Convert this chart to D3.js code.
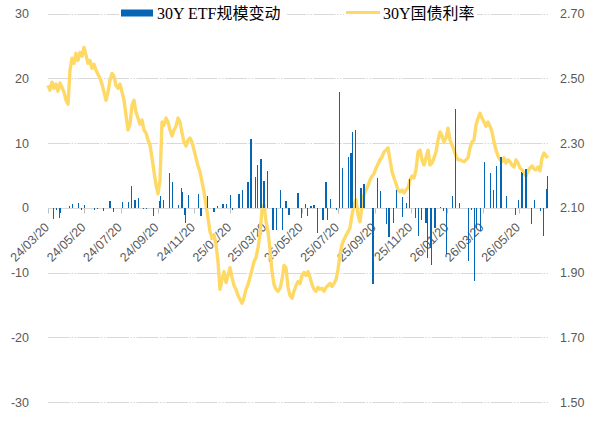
<!DOCTYPE html>
<html><head><meta charset="utf-8">
<script src="https://cdn.jsdelivr.net/npm/d3@7"></script>
<style>body{margin:0;background:#fff}svg{display:block}</style>
</head><body><svg id="c" width="590" height="425"></svg>
<script>
// ---------- data ----------
const leftTicks = [30, 20, 10, 0, -10, -20, -30];
const rightTicks = [2.70, 2.50, 2.30, 2.10, 1.90, 1.70, 1.50];
const xTickDates = ["2024-03-20","2024-05-20","2024-07-20","2024-09-20","2024-11-20","2025-01-20","2025-03-20",
  "2025-05-20","2025-07-20","2025-09-20","2025-11-20","2026-01-20","2026-03-20","2026-05-20"];
const seriesNames = ["30Y ETF规模变动", "30Y国债利率"];
const xDomain = ["2024-03-20", "2026-07-08"];

// 30Y government bond yield, sampled every 3.36 days from the start date
const yieldStart = "2024-03-20";
const yieldStepDays = 3.36;
const yieldValues = [
2.478,2.463,2.488,2.469,2.482,2.460,2.485,2.472,2.457,2.432,2.420,2.525,2.562,2.546,2.577,2.555,2.580,2.568,2.595,2.571,
2.546,2.555,2.531,2.543,2.525,2.512,2.500,2.482,2.457,2.432,2.457,2.494,2.515,2.506,2.478,2.469,2.482,2.457,2.432,2.386,
2.340,2.358,2.417,2.432,2.395,2.377,2.358,2.371,2.340,2.331,2.309,2.294,2.254,2.211,2.171,2.143,2.186,2.365,2.355,2.377,
2.365,2.340,2.322,2.340,2.352,2.377,2.365,2.331,2.303,2.291,2.309,2.315,2.303,2.278,2.254,2.229,2.211,2.180,2.149,2.109,
2.069,2.026,2.008,2.017,1.986,1.934,1.848,1.878,1.903,1.869,1.891,1.915,1.885,1.860,1.848,1.829,1.817,1.805,1.823,1.848,
1.863,1.885,1.909,1.934,1.946,1.977,2.017,2.094,2.109,2.057,2.026,1.971,1.903,1.863,1.848,1.842,1.851,1.878,1.922,1.915,
1.854,1.829,1.820,1.842,1.860,1.872,1.866,1.891,1.900,1.891,1.903,1.885,1.863,1.848,1.842,1.854,1.848,1.851,1.842,1.854,
1.860,1.866,1.857,1.866,1.878,1.909,1.955,1.986,2.002,2.014,2.026,2.038,2.078,2.109,2.125,2.078,2.057,2.109,2.140,2.155,
2.168,2.186,2.198,2.205,2.223,2.235,2.248,2.257,2.272,2.278,2.285,2.248,2.211,2.192,2.174,2.155,2.149,2.155,2.146,2.155,
2.162,2.186,2.198,2.192,2.217,2.272,2.278,2.248,2.232,2.254,2.278,2.232,2.238,2.254,2.272,2.309,2.334,2.322,2.303,2.315,
2.346,2.309,2.294,2.278,2.260,2.248,2.248,2.245,2.242,2.248,2.254,2.285,2.303,2.309,2.355,2.377,2.392,2.377,2.365,2.352,
2.365,2.352,2.334,2.303,2.278,2.260,2.248,2.242,2.254,2.238,2.248,2.242,2.232,2.226,2.248,2.238,2.223,2.217,2.205,2.198,
2.214,2.223,2.229,2.220,2.217,2.226,2.214,2.254,2.269,2.260,2.254];

// 30Y ETF size change (bars)
const flowDates = [
"2024-03-29","2024-04-03","2024-04-08","2024-04-10","2024-04-25","2024-04-30","2024-05-10","2024-05-15","2024-05-20","2024-06-06",
"2024-06-11","2024-06-21","2024-07-01","2024-07-03","2024-07-08","2024-07-23","2024-08-02","2024-08-07","2024-08-12","2024-08-14",
"2024-08-19","2024-08-28","2024-09-02","2024-09-13","2024-09-23","2024-09-25","2024-09-30","2024-10-10","2024-10-15","2024-10-25",
"2024-10-30","2024-11-01","2024-11-04","2024-11-06","2024-11-11","2024-11-28","2024-12-02","2024-12-13","2024-12-24","2024-12-30",
"2025-01-08","2025-01-14","2025-01-20","2025-01-24","2025-02-04","2025-02-10","2025-02-19","2025-02-24","2025-03-03","2025-03-07",
"2025-03-13","2025-03-18","2025-03-24","2025-04-02","2025-04-08","2025-04-14","2025-04-18","2025-04-24","2025-04-29","2025-05-14",
"2025-05-20","2025-05-26","2025-05-30","2025-06-05","2025-06-10","2025-06-16","2025-06-25","2025-06-30","2025-07-02","2025-07-07",
"2025-07-18","2025-07-23","2025-07-28","2025-08-07","2025-08-11","2025-08-13","2025-08-18","2025-08-28","2025-09-02","2025-09-17",
"2025-09-24","2025-09-29","2025-10-10","2025-10-14","2025-10-21","2025-10-27","2025-11-05","2025-11-06","2025-11-12","2025-11-17",
"2025-11-28","2025-12-02","2025-12-08","2025-12-15","2025-12-17","2025-12-22","2025-12-24","2025-12-30","2026-01-08","2026-01-13",
"2026-01-19","2026-01-29","2026-02-03","2026-02-09","2026-02-24","2026-03-02","2026-03-06","2026-03-10","2026-03-17","2026-03-23",
"2026-04-02","2026-04-07","2026-04-13","2026-04-20","2026-04-29","2026-05-14","2026-05-19","2026-05-25","2026-05-26","2026-06-01",
"2026-06-10","2026-06-15","2026-06-25","2026-06-30","2026-07-05","2026-07-07"];
const flowValues = [
-1.8,-0.3,-1.6,-0.8,0.2,0.6,0.8,-0.3,0.5,-0.4,
-0.2,-0.5,1.1,1.0,-0.7,0.9,0.9,3.4,1.2,1.2,
1.5,-0.2,-0.2,-1.2,1.1,1.8,1.2,5.4,4.0,0.5,
3.0,2.4,-1.1,-2.4,2.0,2.1,-1.3,1.85,-0.6,0.2,
0.6,0.6,2.0,-0.3,2.1,2.8,3.9,10.6,4.75,6.65,
7.5,4.15,5.7,-3.4,-3.4,2.8,-3.4,1.0,-1.1,2.35,
-1.6,0.6,-1.2,0.3,0.4,-3.9,-1.85,3.9,-1.85,1.4,
-0.3,17.8,6.2,7.9,8.4,11.7,12.0,3.0,3.7,-11.8,
4.6,2.55,-2.5,-4.5,-2.35,2.8,1.7,-1.4,0.7,4.4,
-1.6,-4.4,-1.85,-2.35,-7.7,-6.2,-8.8,-3.1,0.1,-0.55,
-7.2,1.75,15.3,0.75,-8.3,-0.3,-11.3,-3.1,-3.6,7.0,
5.3,2.8,6.5,7.8,1.75,-1.1,1.2,5.5,5.4,6.0,
-2.45,1.15,-0.55,-4.4,2.9,4.9];

// ---------- drawing ----------
const parse = d3.timeParse("%Y-%m-%d");
const fmt = d3.timeFormat("%y/%m/%d");
const svg = d3.select("#c");
const plotLeft = 48, plotRight = 548, plotTop = 13.5, plotBottom = 402;

const x = d3.scaleTime().domain(xDomain.map(parse)).range([plotLeft, plotRight]);
const yL = d3.scaleLinear().domain([-30, 30]).range([plotBottom, plotTop]);
const yR = d3.scaleLinear().domain([1.5, 2.7]).range([plotBottom, plotTop]);

const gridColor = "#D9D9D9";
const txtColor = "#595959";
const font = "'Liberation Sans', Arial, sans-serif";

// gridlines
svg.append("g").selectAll("line").data(leftTicks).join("line")
  .attr("x1", plotLeft).attr("x2", plotRight)
  .attr("y1", d => Math.round(yL(d)) + 0.5).attr("y2", d => Math.round(yL(d)) + 0.5)
  .attr("stroke", gridColor).attr("stroke-width", 1)
  .attr("stroke-dasharray", d => d === 0 ? null : "22,1.5,1.5,1.5,1.5,1.5");

// left axis labels
svg.append("g").selectAll("text").data(leftTicks).join("text")
  .attr("x", 29).attr("y", d => yL(d)).attr("dy", "0.36em")
  .attr("text-anchor", "end").attr("fill", txtColor)
  .style("font-family", font).style("font-size", "12.5px")
  .text(d => d);

// right axis labels
svg.append("g").selectAll("text").data(rightTicks).join("text")
  .attr("x", 560).attr("y", d => yR(d)).attr("dy", "0.36em")
  .attr("text-anchor", "start").attr("fill", txtColor)
  .style("font-family", font).style("font-size", "12.5px")
  .text(d => d.toFixed(2));

// x ticks and rotated labels
const y0 = Math.round(yL(0)) + 0.5;
svg.append("g").selectAll("line").data(xTickDates).join("line")
  .attr("x1", d => Math.round(x(parse(d))) + 0.5).attr("x2", d => Math.round(x(parse(d))) + 0.5)
  .attr("y1", y0).attr("y2", y0 + 5)
  .attr("stroke", "#BFBFBF");
svg.append("g").selectAll("text").data(xTickDates).join("text")
  .attr("transform", d => `translate(${x(parse(d)) + 2},${y0 + 19.5}) rotate(-45)`)
  .attr("text-anchor", "end").attr("fill", txtColor)
  .style("font-family", font).style("font-size", "12.5px")
  .text(d => fmt(parse(d)));

// yield line
const yieldData = yieldValues.map((v, i) => ({
  date: new Date(parse(yieldStart).getTime() + i * yieldStepDays * 86400000), v }));
svg.append("path").datum(yieldData)
  .attr("d", d3.line().x(d => x(d.date)).y(d => yR(d.v)))
  .attr("fill", "none").attr("stroke", "#FFD966").attr("stroke-width", 3.4)
  .attr("stroke-linejoin", "round");

// bars
const flows = flowDates.map((d, i) => ({ date: parse(d), v: flowValues[i] }));
svg.append("g").selectAll("rect").data(flows).join("rect")
  .attr("x", d => x(d.date) - 0.6).attr("width", 1.2)
  .attr("y", d => Math.min(yL(d.v), yL(0)))
  .attr("height", d => Math.abs(yL(d.v) - yL(0)))
  .attr("fill", "#0566B6").attr("shape-rendering", "crispEdges");

// legend
const lg = svg.append("g").style("font-family", "'Liberation Serif','Times New Roman','Noto Sans CJK SC',serif")
  .style("font-size", "16px");
lg.append("rect").attr("x", 119).attr("y", 4).attr("width", 168).attr("height", 19).attr("fill", "#fff");
lg.append("rect").attr("x", 344).attr("y", 4).attr("width", 133).attr("height", 19).attr("fill", "#fff");
lg.append("rect").attr("x", 121).attr("y", 9.5).attr("width", 32).attr("height", 7).attr("fill", "#0566B6");
lg.append("text").attr("x", 157).attr("y", 19).attr("fill", "#000").text(seriesNames[0]);
lg.append("line").attr("x1", 346).attr("x2", 380).attr("y1", 12.5).attr("y2", 12.5)
  .attr("stroke", "#FFD966").attr("stroke-width", 3);
lg.append("text").attr("x", 383).attr("y", 19).attr("fill", "#000").text(seriesNames[1]);
</script></body></html>
